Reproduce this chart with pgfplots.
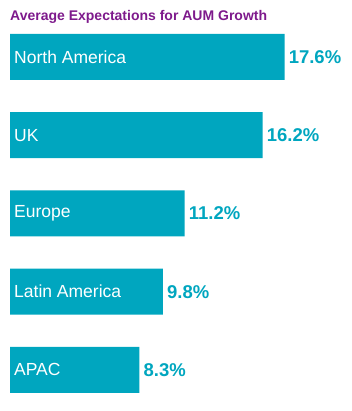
\documentclass[border=0pt]{standalone}
\usepackage{pgfplots}
\pgfplotsset{compat=1.18}
\usepackage{fontspec}
\setmainfont{Liberation Sans}
\definecolor{barteal}{HTML}{00A6BF}
\definecolor{titlepurple}{HTML}{7E1A8C}
\begin{document}
\begin{tikzpicture}[x=1bp,y=1bp]
\useasboundingbox (0,0) rectangle (352,411);
\node[anchor=base west, inner sep=0, text=titlepurple, font=\fontsize{14bp}{16bp}\selectfont\bfseries] at (10,390) {Average Expectations for AUM Growth};
\begin{axis}[
  at={(10bp,1.9bp)}, anchor=south west,
  scale only axis, width=343.2bp, height=391.25bp,
  xmin=0, xmax=22, ymin=-0.5, ymax=4.5,
  hide axis, clip=false,
  /pgf/number format/assume math mode=true,
]
\addplot[xbar, bar width=46bp, bar shift=0pt, fill=barteal, draw=none,
  nodes near coords={\pgfmathprintnumber[fixed,precision=1,fixed zerofill,assume math mode=true]{\pgfplotspointmeta}\%},
  point meta=x,
  nodes near coords style={anchor=west, inner sep=0pt, xshift=4bp, text=barteal, font=\fontsize{18.5bp}{20bp}\selectfont\bfseries}]
  coordinates {(17.6,4) (16.2,3) (11.2,2) (9.8,1) (8.3,0)};
\addplot[draw=none, mark=none,
  nodes near coords, point meta=explicit symbolic,
  nodes near coords style={anchor=west, inner sep=0pt, xshift=4bp, text=white, font=\fontsize{17.5bp}{19bp}\selectfont}]
  table[meta=label] {
x y label
0 4 {North America}
0 3 UK
0 2 Europe
0 1 {Latin America}
0 0 APAC
};
\end{axis}
\end{tikzpicture}
\end{document}
